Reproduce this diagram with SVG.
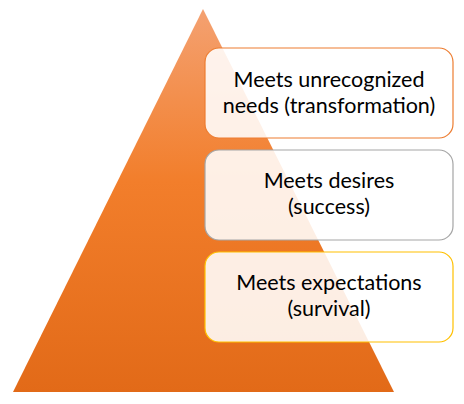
<svg xmlns="http://www.w3.org/2000/svg" width="464" height="404" viewBox="0 0 464 404">
  <defs>
    <linearGradient id="pyramidFill" x1="0" y1="0" x2="0" y2="1">
      <stop offset="0" stop-color="#F4A171"/>
      <stop offset="0.45" stop-color="#F27E2B"/>
      <stop offset="1" stop-color="#E26A18"/>
    </linearGradient>
  </defs>
  <style>
    .box { fill: #FFFFFF; fill-opacity: 0.88; stroke-width: 1.2; }
    .label { font-family: Lato, "Open Sans", "Liberation Sans", sans-serif; font-size: 21.5px; fill: #000000; text-anchor: middle; }
  </style>
  <rect width="464" height="404" fill="#FFFFFF"/>
  <g id="pyramid">
    <polygon points="203,9 394,392 13,392" fill="url(#pyramidFill)"/>
  </g>
  <g id="level-top">
    <rect class="box" x="205" y="48" width="248" height="90" rx="14" stroke="#ED7D31"/>
    <text class="label" x="329" y="87">Meets unrecognized</text>
    <text class="label" x="329" y="113">needs (transformation)</text>
  </g>
  <g id="level-middle">
    <rect class="box" x="205" y="150" width="248" height="90" rx="14" stroke="#A5A5A5"/>
    <text class="label" x="329" y="188">Meets desires</text>
    <text class="label" x="329" y="214">(success)</text>
  </g>
  <g id="level-bottom">
    <rect class="box" x="205" y="252" width="248" height="90" rx="14" stroke="#FFC000"/>
    <text class="label" x="329" y="290">Meets expectations</text>
    <text class="label" x="329" y="316">(survival)</text>
  </g>
</svg>
